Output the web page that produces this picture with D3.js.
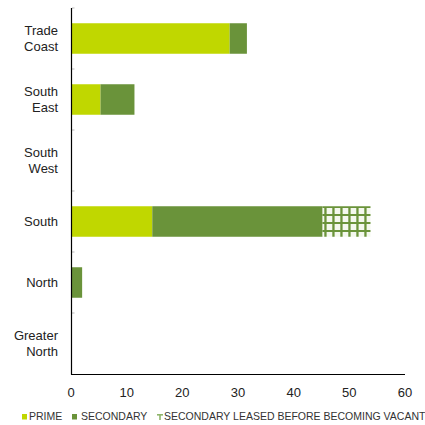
<!DOCTYPE html>
<html>
<head>
<meta charset="utf-8">
<script src="https://cdn.jsdelivr.net/npm/d3@7"></script>
<style>
  html, body { margin: 0; padding: 0; background: #fff; }
  svg { display: block; font-family: "Liberation Sans", Arial, Helvetica, sans-serif; }
</style>
</head>
<body>
<svg id="chart" width="425" height="425"></svg>
<script>
// Regions, top to bottom
const regions = [["Trade", "Coast"], ["South", "East"], ["South", "West"], ["South"], ["North"], ["Greater", "North"]];
const regionKeys = regions.map(r => r.join(" "));

// Vacant floorspace by grade (stacked)
const prime = [28.5, 5.3, 0, 14.6, 0, 0];
const secondary = [3.1, 6.1, 0, 30.6, 2.0, 0];
const secondaryLeased = [0, 0, 0, 8.6, 0, 0];

const xTicks = [0, 10, 20, 30, 40, 50, 60];
const seriesNames = ["PRIME", "SECONDARY", "SECONDARY LEASED BEFORE BECOMING VACANT"];

const colors = { prime: "#c0d700", secondary: "#6a933a" };

const svg = d3.select("#chart");
const margin = { top: 8, right: 20, bottom: 51, left: 71 };
const W = 425, H = 425;
const plotH = H - margin.top - margin.bottom;

// Grid pattern for the leased-before-vacant segment
const defs = svg.append("defs");
const pat = defs.append("pattern")
  .attr("id", "grid")
  .attr("patternUnits", "userSpaceOnUse")
  .attr("width", 8).attr("height", 8)
  .attr("x", 1).attr("y", 0);
pat.append("rect").attr("width", 8).attr("height", 8).attr("fill", "#f4f8ee");
pat.append("rect").attr("x", 4.3).attr("y", 0).attr("width", 2.3).attr("height", 8).attr("fill", colors.secondary);
pat.append("rect").attr("x", 0).attr("y", 6).attr("width", 8).attr("height", 2.3).attr("fill", colors.secondary);

const g = svg.append("g").attr("transform", `translate(${margin.left},${margin.top})`);

const x = d3.scaleLinear().domain([0, 60]).range([0, 334]);
const y = d3.scaleBand().domain(regionKeys).range([0, plotH]).paddingInner(0.5).paddingOuter(0.25);

const stackData = regionKeys.map((k, i) => ({ key: k, prime: prime[i], secondary: secondary[i], leased: secondaryLeased[i] }));
const stack = d3.stack().keys(["prime", "secondary", "leased"])(stackData);
const fills = { prime: colors.prime, secondary: colors.secondary, leased: "url(#grid)" };

g.selectAll("g.series").data(stack).join("g")
  .attr("class", "series")
  .attr("fill", d => fills[d.key])
  .selectAll("rect").data(d => d.filter(s => s[1] - s[0] > 0)).join("rect")
  .attr("x", d => x(d[0]))
  .attr("width", d => x(d[1]) - x(d[0]))
  .attr("y", d => y(d.data.key))
  .attr("height", y.bandwidth());

// Category boundary ticks on the y axis
const bounds = d3.range(regionKeys.length).map(i => i * (plotH / regionKeys.length));
g.selectAll("line.ytick").data(bounds).join("line")
  .attr("x1", 1).attr("x2", 3.5)
  .attr("y1", d => d).attr("y2", d => d)
  .attr("stroke", "#bbb").attr("stroke-width", 1);

// Axis lines
g.append("line").attr("x1", 0.5).attr("x2", 0.5).attr("y1", 0).attr("y2", plotH + 0.5)
  .attr("stroke", "#000").attr("stroke-width", 1.2);
g.append("line").attr("x1", 0).attr("x2", x(60)).attr("y1", plotH + 0.5).attr("y2", plotH + 0.5)
  .attr("stroke", "#000").attr("stroke-width", 1.2);

// Category labels
const labels = g.selectAll("text.cat").data(regions).join("text")
  .attr("class", "cat")
  .attr("text-anchor", "end")
  .attr("font-size", 13)
  .attr("fill", "#222")
  .attr("x", -13)
  .attr("y", (d, i) => y(regionKeys[i]) + y.bandwidth() / 2);
labels.each(function(d) {
  const t = d3.select(this);
  const lh = 15.5;
  d.forEach((line, j) => {
    t.append("tspan")
      .attr("x", -13)
      .attr("dy", j === 0 ? (-(d.length - 1) * lh / 2 + 4.7) : lh)
      .text(line);
  });
});

// X tick labels
g.selectAll("text.xtick").data(xTicks).join("text")
  .attr("class", "xtick")
  .attr("text-anchor", "middle")
  .attr("font-size", 13)
  .attr("fill", "#222")
  .attr("x", d => x(d))
  .attr("y", plotH + 23)
  .text(d => d);

// Legend
const legend = svg.append("g").attr("transform", "translate(0,420)");
const legendItems = [
  { x: 22, tx: 29, fill: colors.prime, label: seriesNames[0] },
  { x: 72, tx: 81, fill: colors.secondary, label: seriesNames[1] },
  { x: 157, tx: 164, fill: "grid", label: seriesNames[2] }
];
legendItems.forEach(it => {
  if (it.fill === "grid") {
    const m = legend.append("g").attr("transform", `translate(${it.x},-6)`);
    m.append("rect").attr("x", 0).attr("y", 0).attr("width", 6).attr("height", 1.6).attr("fill", "#8fb56a");
    m.append("rect").attr("x", 2.2).attr("y", 0).attr("width", 1.6).attr("height", 6).attr("fill", "#8fb56a");
  } else {
    legend.append("rect").attr("x", it.x).attr("y", -6).attr("width", 5).attr("height", 5.5).attr("fill", it.fill);
  }
  legend.append("text")
    .attr("x", it.tx)
    .attr("y", 0)
    .attr("font-size", 10.5)
    .attr("fill", "#333")
    .text(it.label);
});
</script>
</body>
</html>
